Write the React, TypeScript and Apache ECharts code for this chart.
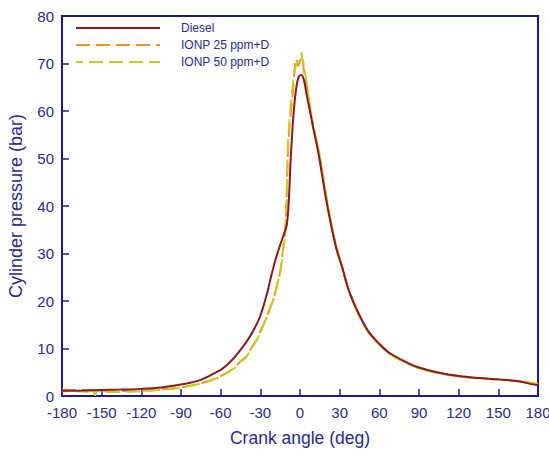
import React, { useEffect, useRef } from "react";
import * as echarts from "echarts";

const xTicks = { min: -180, max: 180, interval: 30 };
const yTicks = { min: 0, max: 80, interval: 10 };

const dieselX = [-180, -165, -150, -135, -120, -105, -90, -75, -60, -55, -50, -45, -40, -35, -30, -25, -22, -18, -15, -12.5, -10, -8.5, -7, -5, -3, -1, 1, 3, 5, 8, 10, 14, 20, 25, 28, 32, 36, 40, 45, 52, 60, 68, 80, 90, 105, 120, 135, 150, 165, 175, 180];
const dieselY = [1.1, 1.15, 1.25, 1.35, 1.5, 1.8, 2.4, 3.4, 5.5, 6.6, 8.0, 9.7, 11.6, 13.9, 16.9, 21.5, 25, 29.2, 31.8, 33.8, 36, 41, 50, 59, 64.5, 67.2, 67.6, 66.5, 63.5, 59.3, 56.5, 51, 41, 34, 30.5, 27, 23, 20, 17, 13.5, 11, 9, 7.2, 6, 4.9, 4.2, 3.8, 3.5, 3.1, 2.5, 2.3];

const ionp25X = [-180, -170, -160, -150, -130, -120, -105, -90, -80, -70, -60, -50, -45, -41, -37, -32.6, -30, -25, -20, -17.6, -15, -13, -11.3, -10, -9, -7.5, -5, -3, -1.5, 0, 1.5, 3, 5, 8, 10, 14, 20, 25, 28, 32, 36, 40, 45, 52, 60, 68, 80, 90, 105, 120, 135, 150, 165, 175, 180];
const ionp25Y = [1.3, 1.25, 1.2, 1.0, 1.05, 1.1, 1.4, 1.8, 2.4, 3.1, 4.2, 5.9, 7.3, 8.2, 10, 11.9, 13.6, 16.8, 20.6, 23, 26.2, 30.5, 34.5, 43, 52, 58, 65, 71, 69.5, 70.5, 71.5, 68.5, 65.5, 60, 56.5, 51.8, 41.5, 34.3, 30.8, 27.1, 23, 20, 16.9, 13.4, 10.9, 8.9, 7.1, 5.9, 4.9, 4.2, 3.8, 3.5, 3.1, 2.7, 2.4];

const ionp50X = [-180, -170, -160, -157, -155, -153, -150, -140, -130, -120, -105, -90, -80, -70, -60, -50, -45, -41, -37, -32.6, -30, -25, -20, -17.6, -15, -13, -11.3, -10, -9.3, -8, -6, -4, -2, 0, 1, 2, 3, 5, 8, 10, 14, 20, 25, 28, 32, 36, 40, 45, 52, 60, 68, 80, 90, 105, 120, 135, 150, 165, 175, 180];
const ionp50Y = [1.0, 1.0, 0.9, 1.6, 0.2, 1.1, 0.8, 0.85, 0.9, 1.0, 1.3, 1.7, 2.3, 3.0, 4.1, 5.8, 7.2, 8, 10, 11.8, 13.5, 16.7, 20.5, 23, 26, 30, 34, 42, 51.8, 58, 64, 68.5, 70.5, 71.5, 72.2, 70.5, 69.5, 66, 60, 57, 52, 42, 34.5, 31, 27, 23, 20, 16.8, 13.3, 10.8, 8.8, 7, 5.8, 4.8, 4.1, 3.7, 3.5, 3.2, 2.8, 2.5];

const seriesNames = ["Diesel", "IONP 25 ppm+D", "IONP 50 ppm+D"];
const seriesColors = ["#8b1a1a", "#f0922a", "#c8cc1e"];

const NAVY = "#1c1c8e";
const TEXT = "#2a2a8c";

function pairs(xs: number[], ys: number[]) {
  return xs.map((x, i) => [x, ys[i]]);
}

export default function App() {
  const ref = useRef<HTMLDivElement>(null);
  useEffect(() => {
    document.body.style.margin = "0";
    if (!ref.current) return;
    const chart = echarts.init(ref.current, null, { renderer: "svg" });
    const datasets = [pairs(dieselX, dieselY), pairs(ionp25X, ionp25Y), pairs(ionp50X, ionp50Y)];
    const common = { type: "line", symbol: "none", smooth: 0.35 };
    chart.setOption({
      animation: false,
      backgroundColor: "#ffffff",
      textStyle: { fontFamily: "Liberation Sans, Arial, sans-serif" },
      grid: {
        left: 62,
        right: 11,
        top: 16,
        bottom: 59,
        show: true,
        borderColor: NAVY,
        borderWidth: 2,
        outerBoundsMode: "none",
      },
      legend: {
        data: seriesNames,
        orient: "vertical",
        left: 75,
        top: 22,
        padding: 0,
        itemWidth: 84,
        itemHeight: 12,
        itemGap: 5,
        itemStyle: { opacity: 0 },
        textStyle: { color: TEXT, fontSize: 12, padding: [0, 0, 0, 16] },
      },
      xAxis: {
        type: "value",
        min: xTicks.min,
        max: xTicks.max,
        interval: xTicks.interval,
        name: "Crank angle (deg)",
        nameLocation: "middle",
        nameGap: 33,
        nameTextStyle: { color: TEXT, fontSize: 17.5 },
        axisLine: { show: true, onZero: false, lineStyle: { color: NAVY, width: 2 } },
        axisTick: { show: true, inside: true, length: 7, lineStyle: { color: NAVY, width: 1.5 } },
        axisLabel: { color: TEXT, fontSize: 15, margin: 9, showMinLabel: true, showMaxLabel: true },
        splitLine: { show: false },
      },
      yAxis: {
        type: "value",
        min: yTicks.min,
        max: yTicks.max,
        interval: yTicks.interval,
        name: "Cylinder pressure (bar)",
        nameLocation: "middle",
        nameGap: 37,
        nameTextStyle: { color: TEXT, fontSize: 18 },
        axisLine: { show: true, onZero: false, lineStyle: { color: NAVY, width: 2 } },
        axisTick: { show: true, inside: true, length: 7, lineStyle: { color: NAVY, width: 1.5 } },
        axisLabel: { color: TEXT, fontSize: 15, margin: 8 },
        splitLine: { show: false },
      },
      series: [
        {
          ...common,
          name: seriesNames[0],
          data: datasets[0],
          z: 3,
          lineStyle: { color: seriesColors[0], width: 2 },
          itemStyle: { color: seriesColors[0] },
        },
        {
          ...common,
          name: seriesNames[1],
          data: datasets[1],
          z: 2,
          lineStyle: { color: seriesColors[1], width: 2, type: [14, 6] },
          itemStyle: { color: seriesColors[1] },
        },
        {
          ...common,
          name: seriesNames[2],
          data: datasets[2],
          z: 2,
          lineStyle: { color: seriesColors[2], width: 2, type: [14, 6], dashOffset: 7 },
          itemStyle: { color: seriesColors[2] },
        },
      ],
    });
    return () => chart.dispose();
  }, []);
  return <div ref={ref} style={{ width: 549, height: 455 }} />;
}
